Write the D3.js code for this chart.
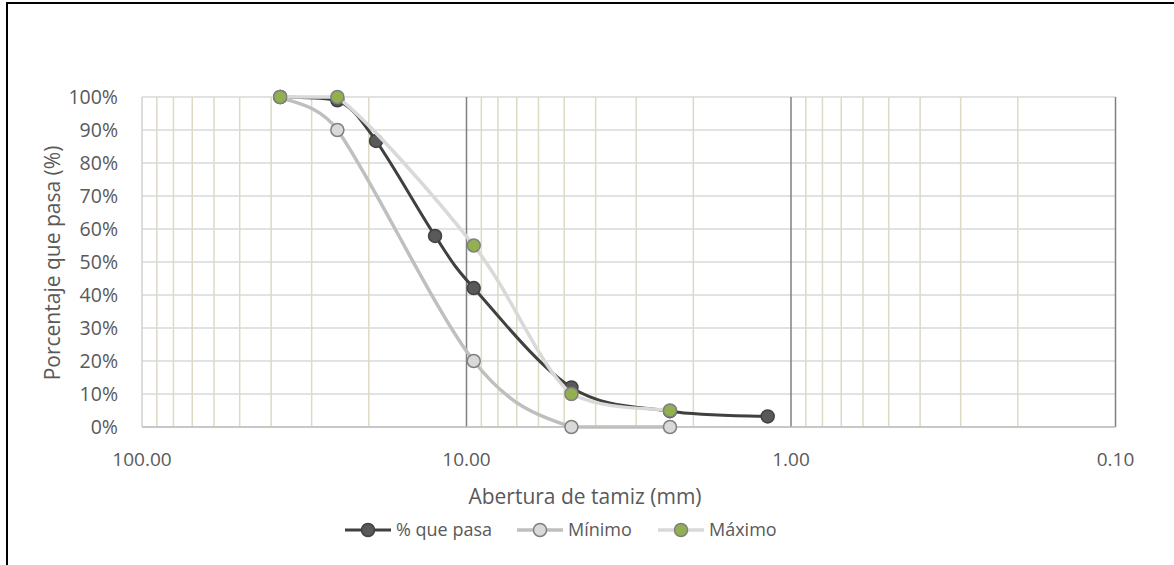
<!DOCTYPE html>
<html><head><meta charset="utf-8">
<script src="https://cdn.jsdelivr.net/npm/d3@7/dist/d3.min.js"></script>
<style>body{margin:0;background:#fff}svg{display:block}text{font-family:"Open Sans",sans-serif;fill:#595959}</style>
</head><body>
<svg id="c" width="1174" height="565"></svg>
<script>
// Data
const sieves = [37.5, 25, 19, 12.5, 9.5, 4.75, 2.36, 1.18];
const pasa   = [100, 99, 86.7, 57.9, 42.1, 12, 4.8, 3.2];
const minSieves = [37.5, 25, 9.5, 4.75, 2.36];
const minimo = [100, 90, 20, 0, 0];
const maxSieves = [37.5, 25, 9.5, 4.75, 2.36];
const maximo = [100, 100, 55, 10, 5];
const xTicks = [100, 10, 1, 0.1];
const yTicks = [0,10,20,30,40,50,60,70,80,90,100];
const seriesNames = ["% que pasa", "Mínimo", "Máximo"];

const svg = d3.select("#c");
// outer frame
svg.append("rect").attr("x",7).attr("y",3).attr("width",1300).attr("height",700)
  .attr("fill","none").attr("stroke","#000").attr("stroke-width",2);

const x = d3.scaleLog().domain([100,0.1]).range([142,1115.5]);
const y = d3.scaleLinear().domain([0,100]).range([427,97]);

// minor vertical gridlines
const minor = [];
[10,1,0.1].forEach(d=>{ for(let k=2;k<=9;k++) minor.push(d*k); });
svg.append("g").selectAll("line").data(minor).join("line")
  .attr("x1",d=>x(d)).attr("x2",d=>x(d)).attr("y1",y(100)).attr("y2",y(0))
  .attr("stroke","#ddd9c3").attr("stroke-width",1.5);
// horizontal gridlines
svg.append("g").selectAll("line").data(yTicks).join("line")
  .attr("x1",x(100)).attr("x2",x(0.1)).attr("y1",d=>y(d)).attr("y2",d=>y(d))
  .attr("stroke","#d9d9d9").attr("stroke-width",1.5);
// major vertical gridlines
svg.append("g").selectAll("line").data([10,1,0.1]).join("line")
  .attr("x1",d=>x(d)).attr("x2",d=>x(d)).attr("y1",y(100)).attr("y2",y(0))
  .attr("stroke","#808080").attr("stroke-width",1.5);
// axis lines
svg.append("line").attr("x1",x(100)).attr("x2",x(100)).attr("y1",y(100)).attr("y2",y(0))
  .attr("stroke","#d0d0d0").attr("stroke-width",1.5);
svg.append("line").attr("x1",x(100)).attr("x2",x(0.1)).attr("y1",y(0)).attr("y2",y(0))
  .attr("stroke","#bfbfbf").attr("stroke-width",1.5);

// tick labels
svg.append("g").selectAll("text").data(yTicks).join("text")
  .attr("x",118).attr("y",d=>y(d)).attr("dy","0.36em").attr("text-anchor","end")
  .attr("font-size",19.5).text(d=>d+"%");
svg.append("g").selectAll("text").data(xTicks).join("text")
  .attr("x",d=>x(d)).attr("y",466).attr("text-anchor","middle")
  .attr("font-size",19).text(d=>d3.format(".2f")(d));

// axis titles
svg.append("text").attr("x",585).attr("y",504).attr("text-anchor","middle")
  .attr("font-size",21).text("Abertura de tamiz (mm)");
svg.append("text").attr("transform","translate(60,263) rotate(-90)").attr("text-anchor","middle")
  .attr("font-size",21).text("Porcentaje que pasa (%)");

// Excel-like smoothed line: Catmull-Rom bezier arms, limited in length, no vertical overshoot
function smoothPath(pts){
  const n = pts.length;
  let p = d3.path();
  p.moveTo(pts[0][0], pts[0][1]);
  const clampArm = (v, seg) => {
    const len = Math.hypot(v[0], v[1]), max = seg/2;
    return len > max && len > 0 ? [v[0]*max/len, v[1]*max/len] : v;
  };
  for (let i=0;i<n-1;i++){
    const p0 = pts[Math.max(i-1,0)], p1 = pts[i], p2 = pts[i+1], p3 = pts[Math.min(i+2,n-1)];
    const seg = Math.hypot(p2[0]-p1[0], p2[1]-p1[1]);
    const a1 = clampArm([(p2[0]-p0[0])/6, (p2[1]-p0[1])/6], seg);
    const a2 = clampArm([(p3[0]-p1[0])/6, (p3[1]-p1[1])/6], seg);
    const lo = Math.min(p1[1],p2[1]), hi = Math.max(p1[1],p2[1]);
    const c1 = [p1[0]+a1[0], Math.min(hi, Math.max(lo, p1[1]+a1[1]))];
    const c2 = [p2[0]-a2[0], Math.min(hi, Math.max(lo, p2[1]-a2[1]))];
    p.bezierCurveTo(c1[0],c1[1],c2[0],c2[1],p2[0],p2[1]);
  }
  return p.toString();
}

const styles = [
  {line:"#404040", w:3, fill:"#595959", stroke:"#404040"},
  {line:"#bfbfbf", w:3.5, fill:"#d9d9d9", stroke:"#808080"},
  {line:"#d9d9d9", w:3.5, fill:"#92b050", stroke:"#808080"}
];
const data = [
  d3.zip(sieves, pasa),
  d3.zip(minSieves, minimo),
  d3.zip(maxSieves, maximo)
];
data.forEach((s,i)=>{
  const st = styles[i];
  const g = svg.append("g");
  const px = s.map(d=>[x(d[0]), y(d[1])]);
  g.append("path").attr("d",smoothPath(px)).attr("fill","none").attr("stroke",st.line).attr("stroke-width",st.w);
  g.selectAll("circle").data(s).join("circle").attr("cx",d=>x(d[0])).attr("cy",d=>y(d[1]))
    .attr("r",6.5).attr("fill",st.fill).attr("stroke",st.stroke).attr("stroke-width",1.5);
});

// legend
const legX = [345, 517, 658];
const ly = 530;
seriesNames.forEach((n,i)=>{
  const st = styles[i];
  const g = svg.append("g");
  g.append("line").attr("x1",legX[i]).attr("x2",legX[i]+46).attr("y1",ly).attr("y2",ly)
    .attr("stroke",st.line).attr("stroke-width",st.w);
  g.append("circle").attr("cx",legX[i]+23).attr("cy",ly).attr("r",6.5)
    .attr("fill",st.fill).attr("stroke",st.stroke).attr("stroke-width",1.5);
  g.append("text").attr("x",legX[i]+51).attr("y",ly).attr("dy","0.36em")
    .attr("font-size",18).text(n);
});
</script>
</body></html>
